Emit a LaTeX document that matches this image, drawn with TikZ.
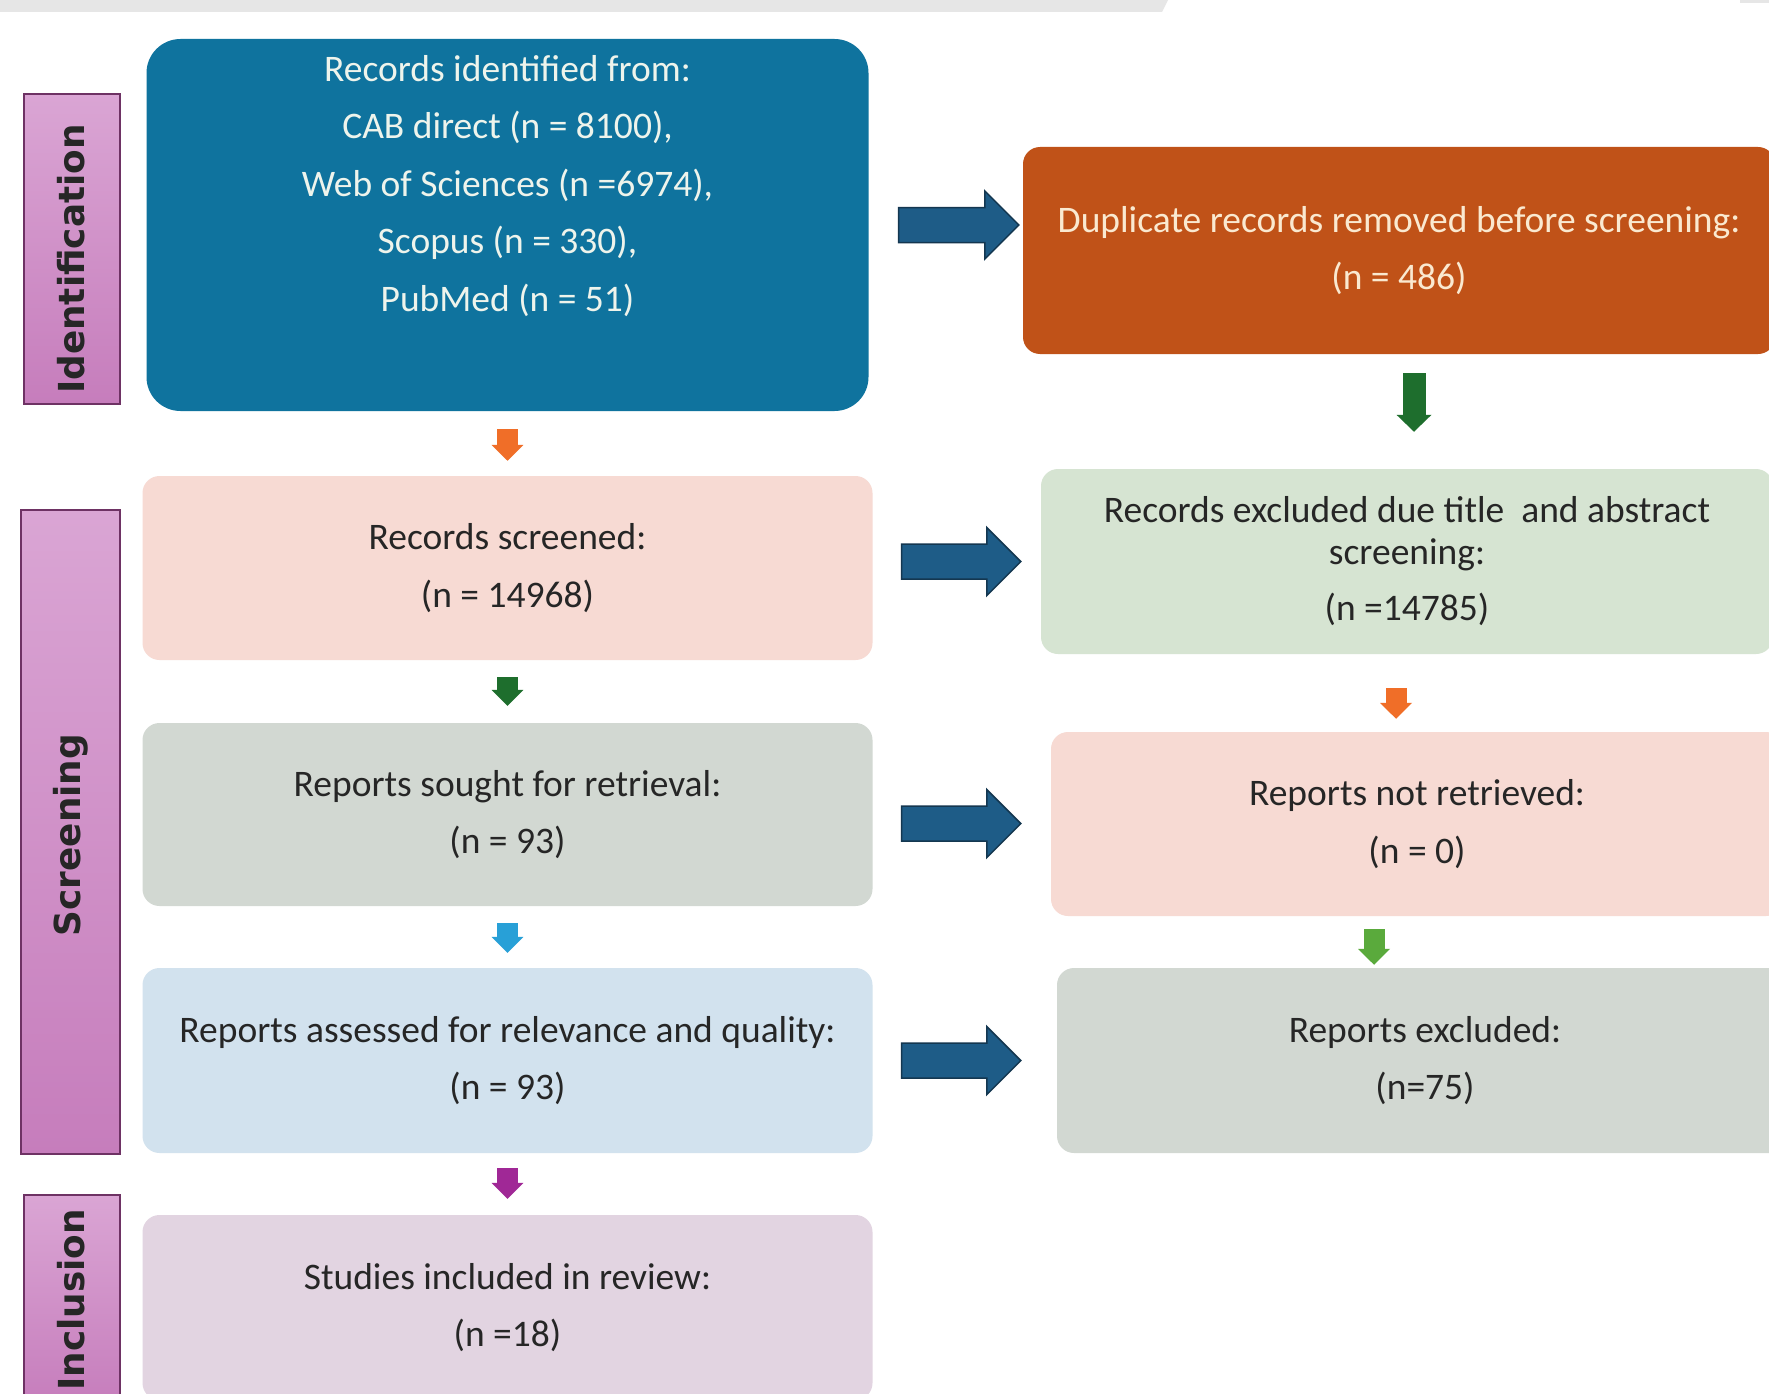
\documentclass[tikz,border=0pt]{standalone}
\usepackage{fontspec}
\setmainfont{Carlito}
\newfontfamily\labfont{DejaVu Sans}
\usetikzlibrary{calc,arrows.meta}
\definecolor{cbar}{RGB}{230,230,230}
\definecolor{cblue}{RGB}{15,115,158}
\definecolor{cbluetxt}{RGB}{238,244,236}
\definecolor{corangebox}{RGB}{192,82,24}
\definecolor{cduptxt}{RGB}{250,233,208}
\definecolor{cpink}{RGB}{247,218,211}
\definecolor{cgreenbox}{RGB}{214,228,210}
\definecolor{cgray}{RGB}{210,216,210}
\definecolor{clightblue}{RGB}{210,226,238}
\definecolor{clilac}{RGB}{226,212,225}
\definecolor{clabtop}{RGB}{218,165,212}
\definecolor{clabbot}{RGB}{198,125,188}
\definecolor{clabedge}{RGB}{110,50,100}
\definecolor{cbigarr}{RGB}{30,92,135}
\definecolor{cbigedge}{RGB}{20,55,80}
\definecolor{corange}{RGB}{240,110,40}
\definecolor{cdkgreen}{RGB}{30,110,45}
\definecolor{cltgreen}{RGB}{90,170,60}
\definecolor{cskyblue}{RGB}{40,160,215}
\definecolor{cpurple}{RGB}{160,40,150}
\definecolor{ctext}{RGB}{38,38,38}
\newcommand\blockarrow[2]{%
  \filldraw[bigarr] let \p1=#1, \p2=#2 in
   (\x1,{\y1+17.5pt}) -- ({\x2-34pt},{\y1+17.5pt}) -- ({\x2-34pt},{\y1+34pt})
   -- (\x2,\y1) -- ({\x2-34pt},{\y1-34pt}) -- ({\x2-34pt},{\y1-17.5pt})
   -- (\x1,{\y1-17.5pt}) -- cycle;}
\begin{document}
\begin{tikzpicture}[x=1pt,y=-1pt,
  box/.style={rectangle, rounded corners=17pt, inner sep=0pt, align=center,
    text=ctext, font=\fontsize{37.5pt}{57.5pt}\selectfont},
  lab/.style={rectangle, draw=clabedge, line width=1.5pt, top color=clabtop, bottom color=clabbot},
  labtext/.style={rotate=90, inner sep=0pt, text=ctext, font=\labfont\bfseries\fontsize{35.8pt}{40pt}\selectfont},
  bigarr/.style={fill=cbigarr, draw=cbigedge, line width=1.5pt, line join=miter},
  sarr/.style={line width=21pt, -{Triangle[length=16pt,width=31pt]}},
  barr/.style={line width=23pt, -{Triangle[length=17pt,width=34pt]}}]
\useasboundingbox (0,0) rectangle (1769,1394);
\clip (0,0) rectangle (1769,1394);
\fill[white] (0,0) rectangle (1769,1394);
% top bar
\fill[cbar] (0,0) -- (1168,0) -- (1162,12) -- (0,12) -- cycle;
\fill[cbar] (1740,0) rectangle (1769,3);
% side labels
\node[lab, minimum width=96pt, minimum height=310pt] (lid) at (72,249) {};
\node[labtext] (lidt) at (71,259) {Identification};
\node[lab, minimum width=99pt, minimum height=644pt] (lscr) at (70.5,832) {};
\node[labtext] (lscrt) at (71,835) {Screening};
\node[lab, minimum width=96pt, minimum height=210pt] (linc) at (72,1300) {};
\node[labtext] (linct) at (71,1300) {Inclusion};
% left column
\node[box, fill=cblue, rounded corners=34pt, minimum width=722pt, minimum height=372pt] (ident) at (507.5,225) {};
\node[box, text=cbluetxt] (identtxt) at (507.5,186) {Records identified from:\\CAB direct (n = 8100),\\Web of Sciences (n =6974),\\Scopus (n = 330),\\PubMed (n = 51)};
\node[box, fill=cpink, minimum width=730pt, minimum height=184pt] (screened) at (507.5,568) {Records screened:\\(n = 14968)};
\node[box, fill=cgray, minimum width=730pt, minimum height=183pt] (sought) at (507.5,814.5) {Reports sought for retrieval:\\(n = 93)};
\node[box, fill=clightblue, minimum width=730pt, minimum height=185pt] (assessed) at (507.5,1060.5) {Reports assessed for relevance and quality:\\(n = 93)};
\node[box, fill=clilac, minimum width=730pt, minimum height=185pt] (included) at (507.5,1307.5) {Studies included in review:\\(n =18)};
% right column
\node[box, fill=corangebox, text=cduptxt, minimum width=752pt, minimum height=207pt] (dup) at (1399,250.5) {Duplicate records removed before screening:\\(n = 486)};
\node[box, fill=cgreenbox, minimum width=732pt, minimum height=185pt, font=\fontsize{37.5pt}{42pt}\selectfont] (excl) at (1407,561.5) {Records excluded due title\ \ and abstract\\screening:\\[14pt](n =14785)};
\node[box, fill=cpink, minimum width=732pt, minimum height=184pt] (notret) at (1417,824) {Reports not retrieved:\\(n = 0)};
\node[box, fill=cgray, minimum width=736pt, minimum height=185pt] (rexcl) at (1425,1060.5) {Reports excluded:\\(n=75)};
% big arrows
\blockarrow{($(ident.east)+(30,0)$)}{($(dup.west)+(-4,0)$)}
\blockarrow{($(screened.east)+(29,-6.5)$)}{($(excl.west)+(-20,0)$)}
\blockarrow{($(sought.east)+(29,9)$)}{($(notret.west)+(-30,0)$)}
\blockarrow{($(assessed.east)+(29,0)$)}{($(rexcl.west)+(-36,0)$)}
% small arrows
\draw[sarr, draw=corange] ($(ident.south)+(0,18)$) -- ($(screened.north)+(0,-15)$);
\draw[sarr, draw=cdkgreen] ($(screened.south)+(0,17)$) -- ($(sought.north)+(0,-17)$);
\draw[sarr, draw=cskyblue] ($(sought.south)+(0,17)$) -- ($(assessed.north)+(0,-15)$);
\draw[sarr, draw=cpurple] ($(assessed.south)+(0,15)$) -- ($(included.north)+(0,-16)$);
\draw[barr, draw=cdkgreen] ($(dup.south)+(15,19)$) -- ($(excl.north)+(7,-37)$);
\draw[sarr, draw=corange] ($(excl.south)+(-11,34)$) -- ($(notret.north)+(-21,-13)$);
\draw[sarr, draw=cltgreen] ($(notret.south)+(-43,13)$) -- ($(rexcl.north)+(-51,-3)$);
\end{tikzpicture}
\end{document}
